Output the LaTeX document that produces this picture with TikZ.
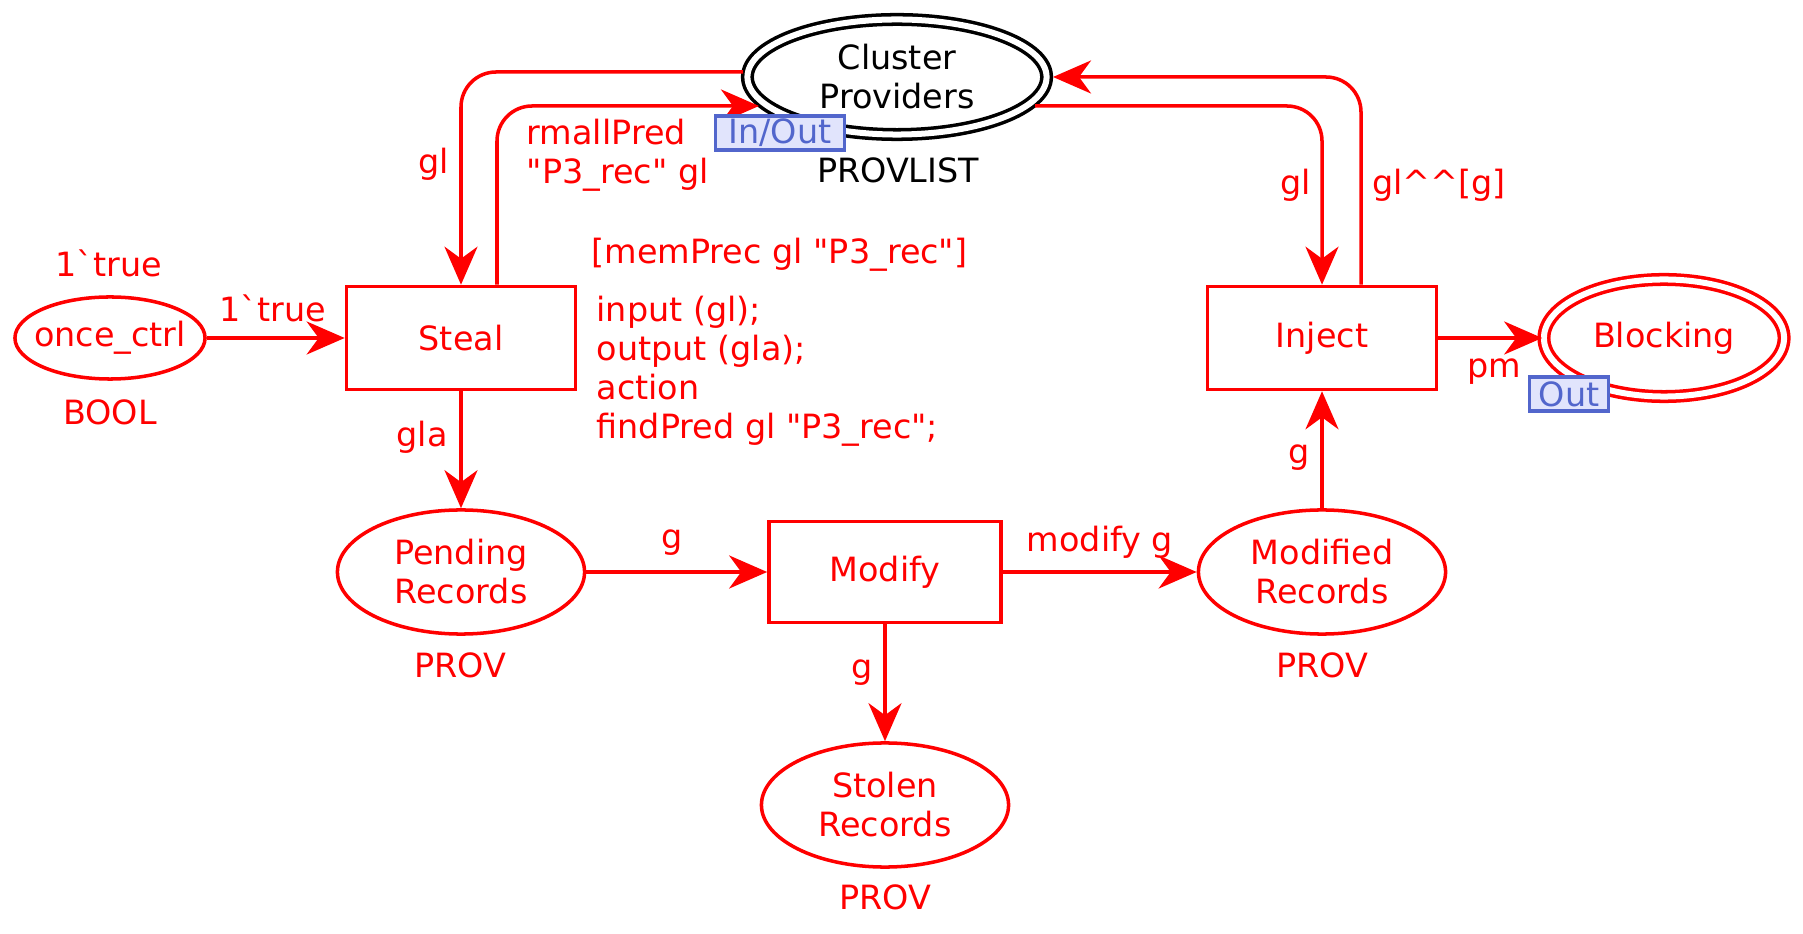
\documentclass[tikz,border=0pt]{standalone}
\usepackage{fontspec}
\setmainfont{DejaVu Sans}
\usepackage{tikz}
\usetikzlibrary{calc}
\usetikzlibrary{arrows.meta}
\usetikzlibrary{shapes.geometric}
\usetikzlibrary{positioning}
\definecolor{cpnred}{RGB}{255,0,0}
\definecolor{tagline}{RGB}{82,102,204}
\definecolor{tagfill}{RGB}{225,228,252}
\newcommand{\grv}{\textasciigrave}
\newcommand{\crt}{\textasciicircum}
\newcommand{\dq}{\textquotedbl}
\tikzset{place/.style={ellipse,draw=cpnred,line width=1pt,text=cpnred,inner sep=0pt,align=center,minimum width=2.47cm,minimum height=1.24cm}}
\tikzset{portplace/.style={ellipse,line width=1pt,double=white,double distance=0.06cm,inner sep=0pt,align=center}}
\tikzset{trans/.style={rectangle,draw=cpnred,line width=1pt,text=cpnred,inner sep=0pt,minimum width=2.29cm,minimum height=1.03cm}}
\tikzset{inscr/.style={text=cpnred,inner sep=0pt,align=left}}
\tikzset{tag/.style={rectangle,draw=tagline,fill=tagfill,text=tagline,line width=1pt,inner sep=0pt,minimum height=0.34cm}}
\tikzset{arc/.style={draw=cpnred,line width=1pt,-{Stealth[length=0.38cm,width=0.33cm,inset=0.12cm]}}}

\begin{document}
\begin{tikzpicture}[x=0.01cm,y=-0.01cm,font=\fontsize{9.5}{11.1}\selectfont]
\useasboundingbox (0,0) rectangle (1803,934);

% places
\node[portplace,draw=black,text=black,minimum width=2.99cm,minimum height=1.15cm] (CP) at (897,77) {Cluster\\Providers};
\node[place,inner xsep=-0.25cm,minimum width=1.90cm,minimum height=0.82cm] (once) at (110,338) {once\_ctrl};
\node[place] (pend) at (461,572) {Pending\\Records};
\node[place] (modrec) at (1322,572) {Modified\\Records};
\node[place] (stolen) at (885,805) {Stolen\\Records};
\node[portplace,draw=cpnred,text=cpnred,minimum width=2.40cm,minimum height=1.17cm] (block) at (1664,338) {Blocking};

% transitions
\node[trans] (steal) at (461,338) {Steal};
\node[trans] (inject) at (1322,338) {\raisebox{-0.3ex}{Inject}};
\node[trans,minimum width=2.32cm,minimum height=1.01cm] (modify) at (885,572) {Modify};

% arcs
\draw[arc] (once) -- (steal);
\draw[arc] (steal) -- (pend);
\draw[arc] (pend) -- (modify);
\draw[arc] (modify) -- (modrec);
\draw[arc] (modify) -- (stolen);
\draw[arc] (modrec) -- (inject);
\draw[arc] (inject) -- (block);
\draw[arc,rounded corners=0.35cm] ($(CP.center)+(-154,-5)$) -| (steal.north);
\draw[arc,rounded corners=0.35cm] ($(steal.north)+(36,0)$) |- ($(CP.center)+(-138,29)$);
\draw[arc,rounded corners=0.35cm] ($(CP.center)+(138,29)$) -| (inject.north);
\draw[arc,rounded corners=0.35cm] ($(inject.north)+(39,0)$) |- ($(CP.center)+(156,0)$);

% tags
\node[tag,minimum width=1.29cm] (cptag) at (780,133) {In/Out};
\node[tag,minimum width=0.79cm] (blocktag) at (1569,394) {Out};

% types and markings
\node (cptype) at (898,170) {PROVLIST};
\node[inscr] (oncetype) at (110,412) {BOOL};
\node[inscr] (oncemark) at (109,263) {1\grv true};
\node[inscr] (pendtype) at (460,665) {PROV};
\node[inscr] (modtype) at (1322,665) {PROV};
\node[inscr] (stoltype) at (885,897) {PROV};

% inscriptions
\node[inscr] (lbtrue) at (273,308) {1\grv true};
\node[inscr,anchor=west] (guard) at (591,255) {[memPrec gl \dq P3\_rec\dq]};
\node[inscr,anchor=west] (code) at (596,371) {input (gl);\\output (gla);\\action\\findPred gl \dq P3\_rec\dq;};
\node[inscr] (lbgla) at (422,437) {gla};
\node[inscr] (lbg1) at (672,543) {g};
\node[inscr] (lbmod) at (1100,542) {modify g};
\node[inscr] (lbg2) at (862,673) {g};
\node[inscr] (lbg3) at (1299,458) {g};
\node[inscr] (lbpm) at (1494,372) {pm};
\node[inscr] (lbgl1) at (434,164) {gl};
\node[inscr,anchor=west] (lbrm) at (526,155) {rmallPred\\\dq P3\_rec\dq{} gl};
\node[inscr] (lbgl2) at (1296,185) {gl};
\node[inscr] (lbapp) at (1439,185) {gl\crt\crt[g]};

\end{tikzpicture}
\end{document}
